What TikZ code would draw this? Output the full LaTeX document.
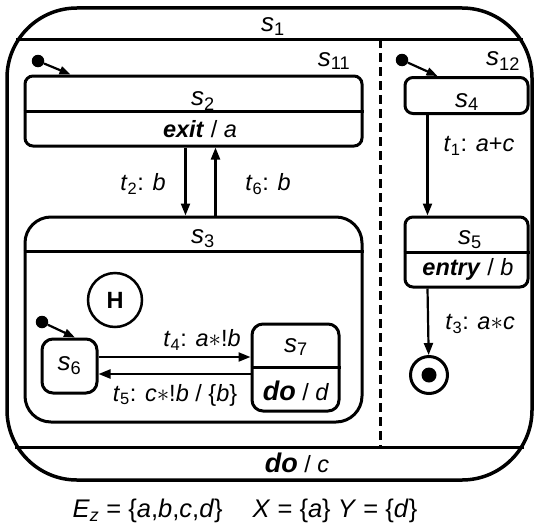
\documentclass[tikz,border=0pt]{standalone}
\usepackage{fontspec}
\setmainfont{Liberation Sans}
\usetikzlibrary{calc}
\usetikzlibrary{calc,arrows.meta}
\newcommand{\Lw}{3pt}
\newcommand{\Ss}[2]{\textit{#1}\textsubscript{#2}}
\newcommand{\Sn}[1]{{\fontsize{26}{30}\selectfont\textit{s}\textsubscript{#1}}}
\newcommand{\Act}[2]{\textbf{\textit{#1}} / \textit{#2}}
\newcommand{\Do}[1]{{\fontsize{27}{30}\selectfont\textbf{\textit{do}}} / \textit{#1}}
\tikzset{State/.style={
    inner sep=0pt,
    draw=black,
    line width=\Lw,
    rounded corners=8pt,
    },
    Small/.style={
    inner sep=0pt,
    draw=black,
    line width=\Lw,
    rounded corners=11pt,
    }
}

\begin{document}
\begin{tikzpicture}[x=1pt, y=-1pt, font=\fontsize{23.5}{27}\selectfont,
    Trans/.style={line width=2.2pt, -{Triangle[length=12pt,width=9pt]}},
    Init/.style={line width=2.2pt, -{Triangle[length=11pt,width=8pt]}},
    Dot/.style={circle, fill=black, inner sep=0pt, minimum size=12.5pt},
    Sep/.style={line width=\Lw},
]
\useasboundingbox (0,0) rectangle (534,527);
% s1
\node [State, line width=3.5pt, rounded corners=70pt, minimum width=525pt, minimum height=472pt] (S1) at (269.5,244) {};
\draw [Sep] ($(S1.north west)+(10.6,33)$) -- ($(S1.north east)+(-10.6,33)$);
\draw [Sep] ($(S1.south west)+(10,-34)$) -- ($(S1.south east)+(-10,-34)$);
\draw [line width=2.5pt, dash pattern=on 9pt off 5pt] ($(S1.north west)+(375,33)$) -- ($(S1.south west)+(375,-34)$);
\node (s1) at (273,27) {\Sn{1}};
\node (s11) at (334,61) {\Sn{11}};
\node (s12) at (503,61) {\Sn{12}};
\node (doc) at (297,463) {\Do{c}};
% s2
\node [State, minimum width=337pt, minimum height=70pt] (S2) at (193.5,111) {};
\draw [Sep] (S2.west) -- (S2.east);
\node (s2) at (203,101) {\Sn{2}};
\node (exit) at (200,129) {\Act{exit}{a}};
\node [Dot] (i11) at (38,61) {};
\draw [Init] (i11) -- ($(S2.north west)+(47,0)$);
% s3
\node [State, rounded corners=26pt, minimum width=337pt, minimum height=205pt] (S3) at (193.5,319.5) {};
\draw [Sep] ($(S3.north west)+(0,36)$) -- ($(S3.north east)+(0,36)$);
\node (s3) at (203,239) {\Sn{3}};
\draw [Trans] ($(S2.south west)+(162,0)$) -- ($(S3.north west)+(162,0)$);
\draw [Trans] ($(S3.north west)+(192,0)$) -- ($(S2.south west)+(192,0)$);
\node (t2) at (143,184) {\Ss{t}{2}: \textit{b}};
\node (t6) at (268,184) {\Ss{t}{6}: \textit{b}};
\node [circle, draw, line width=2.5pt, minimum size=54pt, font=\fontsize{23.5}{27}\selectfont\bfseries] (H) at (115,300) {H};
% s6, s7
\node [Small, minimum width=55pt, minimum height=54pt] (S6) at (69.5,366) {\Sn{6}};
\node [Dot] (i6) at (42,322) {};
\draw [Init] (i6) -- ($(S6.north)+(5.5,0)$);
\node [Small, minimum width=87pt, minimum height=87pt] (S7) at (295.5,367.5) {};
\draw [Sep] (S7.west) -- (S7.east);
\node (s7) at (296,347) {\Sn{7}};
\node (dod) at (296,391) {\Do{d}};
\draw [Trans] ($(S6.east)+(0,-9)$) -- ($(S7.west)+(0,-10.5)$);
\draw [Trans] ($(S7.west)+(0,6.5)$) -- ($(S6.east)+(0,8)$);
\node (t4) at (202,340) {\Ss{t}{4}: \textit{a}$\ast$!\textit{b}};
\node (t5) at (175,395) {\Ss{t}{5}: \textit{c}$\ast$!\textit{b} / \{\textit{b}\}};
% s4, s5
\node [State, minimum width=123pt, minimum height=36pt] (S4) at (466.5,95.5) {};
\node (s4) at (467,102) {\Sn{4}};
\node [Dot] (i12) at (402,60) {};
\draw [Init] (i12) -- ($(S4.north west)+(34,0)$);
\node [State, minimum width=123pt, minimum height=70pt] (S5) at (466.5,252) {};
\draw [Sep] (S5.west) -- (S5.east);
\node (s5) at (470,240) {\Sn{5}};
\node (entry) at (468,269) {\Act{entry}{b}};
\draw [Trans] ($(S4.south west)+(24,0)$) -- ($(S5.north west)+(24,0)$);
\node (t1) at (479,146) {\Ss{t}{1}: \textit{a}+\textit{c}};
\node [circle, draw, line width=3pt, minimum size=37pt, inner sep=0pt] (F) at (429,375) {};
\node [Dot, minimum size=15pt] (Fi) at (F) {};
\draw [Trans] ($(S5.south west)+(24,0)$) -- (F);
\node (t3) at (480,324) {\Ss{t}{3}: \textit{a}$\ast$\textit{c}};
% sets
\node [font=\fontsize{25.5}{29}\selectfont] (sets) at (245,511) {\textit{E}\textsubscript{\textit{z}} = \{\textit{a},\textit{b},\textit{c},\textit{d}\}\hspace{30pt}\textit{X} = \{\textit{a}\} \textit{Y} = \{\textit{d}\}};
\end{tikzpicture}
\end{document}
